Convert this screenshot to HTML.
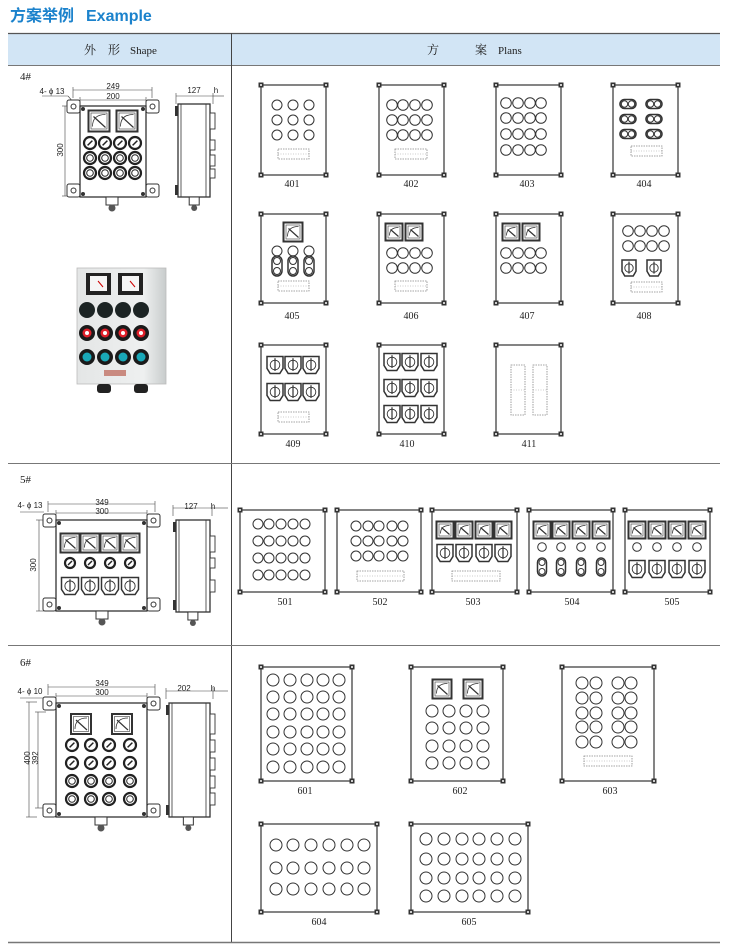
<!DOCTYPE html>
<html><head><meta charset="utf-8"><style>
html,body{margin:0;padding:0;background:#fff}
svg{display:block}
text{font-family:"Liberation Serif","Noto Serif CJK SC",serif;fill:#222}
.sa{font-family:"Liberation Sans",sans-serif}
</style></head><body>
<svg id="s" width="730" height="949" viewBox="0 0 730 949" xmlns="http://www.w3.org/2000/svg">
<rect x="0" y="0" width="730" height="949" fill="#fff"/>
<text x="10" y="21" font-size="16" font-weight="bold" style="fill:#1b82cc;font-family:'Liberation Sans','Noto Sans CJK SC',sans-serif">方案举例</text>
<text x="86" y="21" font-size="16" font-weight="bold" style="fill:#1b82cc;font-family:'Liberation Sans',sans-serif">Example</text>
<rect x="8" y="33" width="712" height="32" fill="#d2e5f5"/>
<line x1="8" y1="33.5" x2="720" y2="33.5" stroke="#555" stroke-width="1.2"/>
<line x1="8" y1="65.5" x2="720" y2="65.5" stroke="#777" stroke-width="1"/>
<line x1="231.5" y1="33" x2="231.5" y2="943" stroke="#444" stroke-width="1"/>
<line x1="8" y1="463.5" x2="720" y2="463.5" stroke="#777" stroke-width="1"/>
<line x1="8" y1="645.5" x2="720" y2="645.5" stroke="#777" stroke-width="1"/>
<line x1="8" y1="942.5" x2="720" y2="942.5" stroke="#777" stroke-width="1.5"/>
<text x="84" y="54" font-size="12">外　形</text><text x="130" y="54" font-size="11">Shape</text>
<text x="427" y="54" font-size="12">方　　　案</text><text x="498" y="54" font-size="11">Plans</text>
<text x="20" y="80" font-size="11">4#</text>
<text x="20" y="483" font-size="11">5#</text>
<text x="20" y="666" font-size="11">6#</text>
<g font-size="10" text-anchor="middle">
<text x="292" y="187">401</text><text x="411" y="187">402</text><text x="527" y="187">403</text><text x="644" y="187">404</text>
<text x="292" y="319">405</text><text x="411" y="319">406</text><text x="527" y="319">407</text><text x="644" y="319">408</text>
<text x="293" y="447">409</text><text x="407" y="447">410</text><text x="529" y="447">411</text>
<text x="285" y="605">501</text><text x="380" y="605">502</text><text x="473" y="605">503</text><text x="572" y="605">504</text><text x="672" y="605">505</text>
<text x="305" y="794">601</text><text x="460" y="794">602</text><text x="610" y="794">603</text>
<text x="319" y="925">604</text><text x="469" y="925">605</text>
</g>
<g class="sa" font-size="8" text-anchor="middle">
<text x="113" y="89" class="sa">249</text><text x="113" y="99" class="sa">200</text>
<text x="194" y="93" class="sa">127</text><text x="216" y="93" class="sa">h</text>
<text x="52" y="94" class="sa">4- ϕ 13</text>
<text x="0" y="0" class="sa" transform="translate(63,150) rotate(-90)">300</text>
<text x="102" y="505" class="sa">349</text><text x="102" y="514" class="sa">300</text>
<text x="191" y="509" class="sa">127</text><text x="213" y="509" class="sa">h</text>
<text x="30" y="508" class="sa">4- ϕ 13</text>
<text x="0" y="0" class="sa" transform="translate(36,565) rotate(-90)">300</text>
<text x="102" y="686" class="sa">349</text><text x="102" y="695" class="sa">300</text>
<text x="184" y="691" class="sa">202</text><text x="213" y="691" class="sa">h</text>
<text x="30" y="694" class="sa">4- ϕ 10</text>
<text x="0" y="0" class="sa" transform="translate(30,758) rotate(-90)">400</text>
<text x="0" y="0" class="sa" transform="translate(38,758) rotate(-90)">392</text>
</g>
<g id="g"></g>
</svg>
<script>
var o='';
function R(x,y,w,h,a){o+='<rect x="'+x+'" y="'+y+'" width="'+w+'" height="'+h+'" '+(a||'fill="#fff" stroke="#333" stroke-width="1.2"')+'/>';}
function C(x,y,r,a){o+='<circle cx="'+x+'" cy="'+y+'" r="'+r+'" '+(a||'fill="none" stroke="#333" stroke-width="1"')+'/>';}
function L(x1,y1,x2,y2,a){o+='<line x1="'+x1+'" y1="'+y1+'" x2="'+x2+'" y2="'+y2+'" '+(a||'stroke="#333" stroke-width="0.8"')+'/>';}
function P(x,y,w,h){R(x,y,w,h);[[x,y],[x+w,y],[x,y+h],[x+w,y+h]].forEach(function(p){R(p[0]-2.5,p[1]-2.5,5,5,'fill="#333"');C(p[0],p[1],1,'fill="#fff"');});}
function M(cx,cy,s){var h=s/2;R(cx-h,cy-h,s,s,'fill="#fff" stroke="#333" stroke-width="2"');R(cx-h+2.5,cy-h+2.5,s-5,s-5,'fill="#fff" stroke="#555" stroke-width="0.7"');
o+='<path d="M'+(cx-h+4)+' '+(cy+h-5)+' Q'+(cx-h+4)+' '+(cy-h+4)+' '+(cx+h-4)+' '+(cy-h+4)+'" fill="none" stroke="#333" stroke-width="0.8"/>';L(cx-h+5,cy-h+6,cx+h-4,cy+h-4,'stroke="#333" stroke-width="1.2"');}
function S(cx,cy,w,h){var x=cx-w/2,y=cy-h/2;o+='<path d="M'+x+' '+y+' H'+(x+w)+' V'+(y+h*0.7)+' L'+(x+w*0.8)+' '+(y+h)+' H'+(x+w*0.2)+' L'+x+' '+(y+h*0.7)+' Z" fill="#fff" stroke="#333" stroke-width="1.5"/>';C(cx,cy,w*0.3,'fill="none" stroke="#333" stroke-width="0.9"');L(cx,cy-h*0.4,cx,cy+h*0.35,'stroke="#333" stroke-width="1.2"');}
function T(x,y,w,h){R(x,y,w,h,'fill="none" stroke="#888" stroke-width="0.8" stroke-dasharray="1.5,1"');L(x,y+h/2,x+w,y+h/2,'stroke="#999" stroke-width="0.6" stroke-dasharray="1,1.5"');}
function G(xs,ys,r){ys.forEach(function(y){xs.forEach(function(x){C(x,y,r);});});}
function Oh(cx,cy){R(cx-8,cy-4.5,16,9,'fill="#fff" stroke="#333" stroke-width="1.6" rx="4.5"');C(cx-3.5,cy,3.2);C(cx+3.5,cy,3.2);}
function Ov(cx,cy,w,h){R(cx-w/2,cy-h/2,w,h,'fill="#fff" stroke="#333" stroke-width="1.5" rx="'+w/2+'"');C(cx,cy-h/4,w/2-1.5);C(cx,cy+h/4,w/2-1.5);}
// 4#
P(261,85,65,90);G([277,293,309],[105,120,135],5);T(278,149,31,10);
P(379,85,65,90);G([392,403,415,427],[105,120,135],5.3);T(395,149,32,10);
P(496,85,65,90);G([506,518,530,541],[103,118,134,150],5.3);
P(613,85,65,90);[104,119,134].forEach(function(y){Oh(628,y);Oh(654,y);});T(631,146,31,10);
P(261,214,65,89);M(293,232,19);G([277,293,309],[251],5);[277,293,309].forEach(function(x){Ov(x,266,10,20);});T(278,281,31,10);
P(379,214,65,89);M(394,232,17);M(414,232,17);G([392,403,415,427],[253,268],5.3);T(395,281,32,10);
P(496,214,65,89);M(511,232,17);M(531,232,17);G([506,518,530,541],[253,268],5.3);
P(613,214,65,89);G([628,640,652,664],[231,246],5.3);S(629,268,14,16);S(654,268,14,16);T(631,282,31,10);
P(261,345,65,89);[365,392].forEach(function(y){[275,293,311].forEach(function(x){S(x,y,16,17);});});T(278,412,31,10);
P(379,345,65,89);[362,388,414].forEach(function(y){[392,410,429].forEach(function(x){S(x,y,16,17);});});
P(496,345,65,89);T(511,365,14,50);T(533,365,14,50);
// 5#
P(240,510,85,82);G([258,269,281,293,305],[524,541,558,575],5);
P(337,510,84,82);G([356,368,379,392,403],[526,541,556],5);T(357,571,47,10);
P(432,510,85,82);[445,464,484,503].forEach(function(x){M(x,530,17);S(x,553,16,17);});T(452,571,48,10);
P(529,510,84,82);[542,561,581,601].forEach(function(x){M(x,530,17);C(x,547,4.3);Ov(x,567,9,18);});
P(625,510,85,82);[637,657,677,697].forEach(function(x){M(x,530,17);C(x,547,4.3);S(x,569,16,17);});
// 6#
P(261,667,91,114);G([273,290,307,323,339],[680,697,714,732,749,767],6);
P(411,667,92,114);M(442,689,19);M(473,689,19);G([432,449,466,483],[711,728,746,763],6);
P(562,667,92,114);G([582,596,618,631],[683,698,713,727,742],6);T(584,756,48,10);
P(261,824,116,88);G([276,293,311,329,347,364],[845,868,889],6);
P(411,824,117,88);G([426,444,462,479,497,515],[839,859,878,896],6);
// left drawings
function ear(x,y){R(x,y,13,13,'fill="#fff" stroke="#333" stroke-width="1" rx="2"');C(x+6.5,y+6.5,2.5);}
function knob(x,y,r,k){C(x,y,r,'fill="#fff" stroke="#222" stroke-width="2.2"');if(k){L(x-r*0.4,y+r*0.4,x+r*0.4,y-r*0.4,'stroke="#222" stroke-width="1.5"');}else C(x,y,r*0.55,'fill="none" stroke="#222" stroke-width="1"');}
function front(x,y,w,h){ear(x-13,y-6);ear(x+w,y-6);ear(x-13,y+h-13);ear(x+w,y+h-13);R(x,y,w,h,'fill="#fff" stroke="#333" stroke-width="1.3"');[[x+3,y+3],[x+w-3,y+3],[x+3,y+h-3],[x+w-3,y+h-3]].forEach(function(p){C(p[0],p[1],2,'fill="#333"');});}
function side(x,y,w,h,bs){R(x,y,w,h,'fill="#fff" stroke="#333" stroke-width="1.3"');L(x+3,y,x+3,y+h,'stroke="#333" stroke-width="0.8"');L(x+w-4,y,x+w-4,y+h,'stroke="#333" stroke-width="0.8"');R(x-3,y+2,3,10,'fill="#333"');R(x-3,y+h-12,3,10,'fill="#333"');bs.forEach(function(b){R(x+w,b[0],5,b[1],'fill="#fff" stroke="#333" stroke-width="0.9"');});R(x+w*0.35,y+h,10,8,'fill="#fff" stroke="#333" stroke-width="1"');C(x+w*0.35+5,y+h+11,3,'fill="#555"');}
function gland(x,y){R(x,y,12,8,'fill="#fff" stroke="#333" stroke-width="1"');C(x+6,y+11,3.5,'fill="#555"');}
function dim(x1,x2,y){L(x1,y,x2,y,'stroke="#444" stroke-width="0.6"');L(x1,y-3,x1,y+8,'stroke="#444" stroke-width="0.6"');L(x2,y-3,x2,y+8,'stroke="#444" stroke-width="0.6"');}
function vdim(x,y1,y2){L(x,y1,x,y2,'stroke="#444" stroke-width="0.6"');L(x-3,y1,x+8,y1,'stroke="#444" stroke-width="0.6"');L(x-3,y2,x+8,y2,'stroke="#444" stroke-width="0.6"');}
// 4# drawing
dim(73,152,90);dim(80,146,100);vdim(65,106,196);L(42,96,68,96,'stroke="#444" stroke-width="0.6"');L(68,96,74,103,'stroke="#444" stroke-width="0.6"');
front(80,106,66,91);M(99,121,21);M(127,121,21);[90,105,120,135].forEach(function(x){knob(x,143,6,1);knob(x,158,6,0);knob(x,173,6,0);});gland(106,197);
dim(176,213,96);L(213,96,224,96,'stroke="#444" stroke-width="0.6"');side(178,104,32,93,[[113,16],[140,10],[155,11],[169,9]]);
// photo
o+='<defs><linearGradient id="pg" x1="0" x2="1"><stop offset="0" stop-color="#e4e6e6"/><stop offset="0.75" stop-color="#eef0f0"/><stop offset="1" stop-color="#c8cccc"/></linearGradient></defs>';
R(77,268,89,116,'fill="url(#pg)" stroke="#bbb" stroke-width="0.8"');
[[86,273],[118,273]].forEach(function(p){R(p[0],p[1],25,22,'fill="#222"');R(p[0]+4,p[1]+3,17,15,'fill="#f5f5f5"');L(p[0]+12,p[1]+8,p[0]+17,p[1]+14,'stroke="#c00" stroke-width="1"');});
[87,105,123,141].forEach(function(x){C(x,310,8,'fill="#1c2424"');C(x,333,8,'fill="#1a1a1a"');C(x,333,4.5,'fill="#e0202a"');C(x,333,2,'fill="#fff"');C(x,357,8,'fill="#1a1a1a"');C(x,357,4.5,'fill="#19a8b8"');});
R(104,370,22,6,'fill="#c98a80"');R(97,384,14,9,'fill="#222" rx="3"');R(134,384,14,9,'fill="#222" rx="3"');
// 5# drawing
dim(48,155,504);dim(56,147,513);vdim(39,520,611);L(20,512,44,512,'stroke="#444" stroke-width="0.6"');
front(56,520,91,91);[70,90,110,130].forEach(function(x){M(x,543,19);knob(x,563,5,1);S(x,586,17,17);});gland(96,611);
dim(173,212,508);L(212,508,228,508,'stroke="#444" stroke-width="0.6"');side(176,520,34,92,[[536,16],[558,10],[580,12]]);
// 6# drawing
dim(48,155,687);dim(56,147,696);vdim(29,702,817);vdim(38,712,808);L(20,698,44,698,'stroke="#444" stroke-width="0.6"');
front(56,703,91,114);M(81,724,20);M(122,724,20);[72,91,109,130].forEach(function(x){knob(x,745,6,1);knob(x,763,6,1);knob(x,781,6,0);knob(x,799,6,0);});gland(95,817);
dim(166,213,691);L(213,691,228,691,'stroke="#444" stroke-width="0.6"');side(169,703,41,114,[[714,20],[740,12],[758,12],[776,12],[793,12]]);
document.getElementById('g').innerHTML=o;
</script>
</body></html>
